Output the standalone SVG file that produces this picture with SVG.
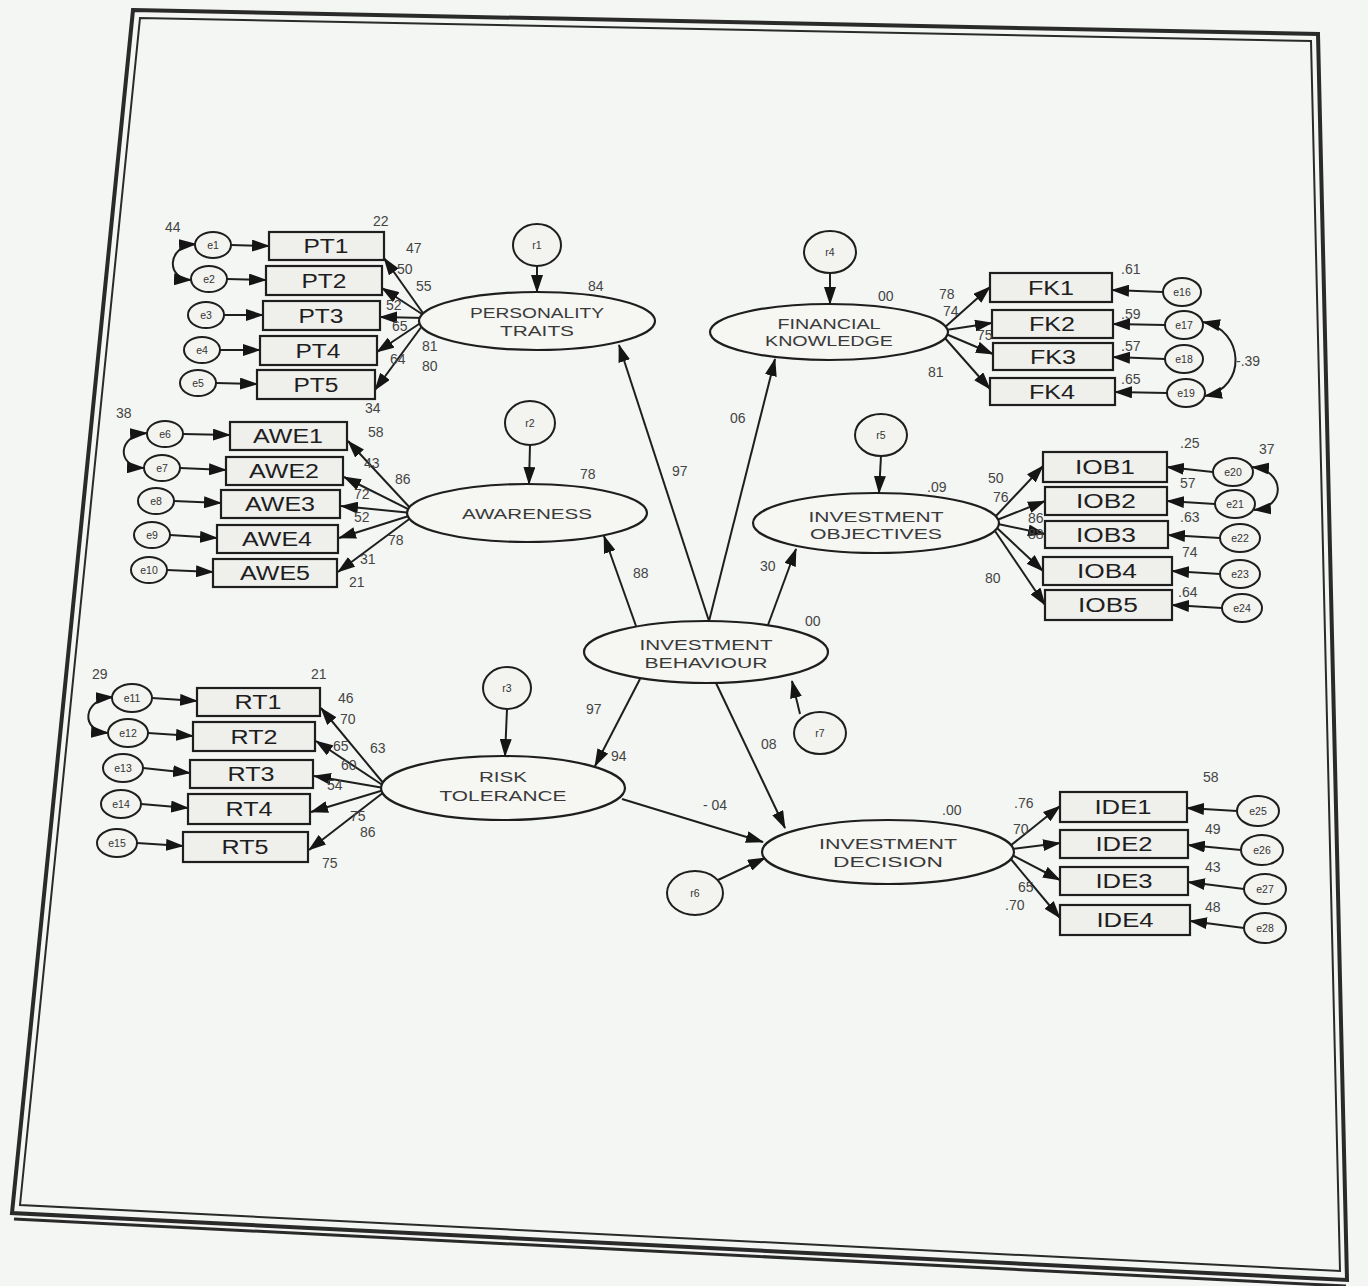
<svg xmlns="http://www.w3.org/2000/svg" width="1368" height="1286" viewBox="0 0 1368 1286">
<style>
.box{fill:#efefec;stroke:#1e1e1e;stroke-width:2.2}
.lat{fill:#f6f6f3;stroke:#1e1e1e;stroke-width:2.2}
.err{fill:#f3f3f0;stroke:#1e1e1e;stroke-width:2}
.bt{font-family:"Liberation Sans",Arial,sans-serif;font-size:20px;fill:#1e1e1e;text-anchor:middle}
.lt{font-family:"Liberation Sans",Arial,sans-serif;font-size:14px;fill:#3a3a3a;text-anchor:middle}
.et{font-family:"Liberation Sans",Arial,sans-serif;font-size:10.5px;fill:#333;text-anchor:middle}
.n{font-family:"Liberation Sans",Arial,sans-serif;font-size:14px;fill:#444}
.c line,.c path{stroke:#1e1e1e;stroke-width:2;fill:none}
.a{marker-end:url(#ah)}
.cv{marker-start:url(#ahs);marker-end:url(#ah)}
</style>
<defs>
<marker id="ah" markerUnits="userSpaceOnUse" markerWidth="18" markerHeight="12" refX="17" refY="6" orient="auto"><path d="M0,0 L18,6 L0,12 z" fill="#151515"/></marker>
<marker id="ahs" markerUnits="userSpaceOnUse" markerWidth="18" markerHeight="12" refX="1" refY="6" orient="auto"><path d="M18,0 L0,6 L18,12 z" fill="#151515"/></marker>
</defs>
<rect x="0" y="0" width="1368" height="1286" fill="#f4f6f3"/>
<g id="frame" fill="none">
<polygon points="133,10 1318,34 1347,1280 12,1213" stroke="#2a2a2a" stroke-width="4"/>
<polygon points="140,18 1311,41 1340,1271 20,1205" stroke="#2a2a2a" stroke-width="2"/>
<line x1="14" y1="1219" x2="1346" y2="1286" stroke="#2a2a2a" stroke-width="3"/>
</g>

<g class="c" id="connectors">
<line class="a" x1="425" y1="316" x2="384" y2="258"/>
<line class="a" x1="425" y1="316" x2="382" y2="288"/>
<line class="a" x1="425" y1="318" x2="380" y2="317"/>
<line class="a" x1="425" y1="320" x2="377" y2="352"/>
<line class="a" x1="425" y1="322" x2="375" y2="390"/>
<line class="a" x1="231" y1="245" x2="269" y2="246"/>
<line class="a" x1="227" y1="279" x2="266" y2="280"/>
<line class="a" x1="224" y1="315" x2="263" y2="315"/>
<line class="a" x1="220" y1="350" x2="260" y2="350"/>
<line class="a" x1="216" y1="383" x2="257" y2="384"/>
<path class="cv" d="M196,244 C166,246 166,279 191,280"/>
<line class="a" x1="412" y1="510" x2="348" y2="441"/>
<line class="a" x1="412" y1="511" x2="344" y2="477"/>
<line class="a" x1="412" y1="513" x2="341" y2="506"/>
<line class="a" x1="412" y1="515" x2="339" y2="538"/>
<line class="a" x1="412" y1="517" x2="338" y2="572"/>
<line class="a" x1="183" y1="434" x2="230" y2="435"/>
<line class="a" x1="180" y1="468" x2="226" y2="470"/>
<line class="a" x1="174" y1="501" x2="221" y2="503"/>
<line class="a" x1="170" y1="535" x2="217" y2="538"/>
<line class="a" x1="167" y1="570" x2="213" y2="572"/>
<path class="cv" d="M147,433 C117,435 116,467 144,468"/>
<line class="a" x1="384" y1="784" x2="321" y2="708"/>
<line class="a" x1="384" y1="786" x2="316" y2="741"/>
<line class="a" x1="384" y1="788" x2="314" y2="776"/>
<line class="a" x1="384" y1="790" x2="311" y2="812"/>
<line class="a" x1="384" y1="792" x2="309" y2="850"/>
<line class="a" x1="152" y1="698" x2="197" y2="701"/>
<line class="a" x1="148" y1="733" x2="193" y2="736"/>
<line class="a" x1="143" y1="768" x2="190" y2="773"/>
<line class="a" x1="141" y1="804" x2="188" y2="808"/>
<line class="a" x1="137" y1="843" x2="183" y2="846"/>
<path class="cv" d="M113,697 C82,699 80,731 108,733"/>
<line class="a" x1="944" y1="328" x2="990" y2="287"/>
<line class="a" x1="946" y1="330" x2="992" y2="323"/>
<line class="a" x1="946" y1="334" x2="993" y2="354"/>
<line class="a" x1="944" y1="337" x2="990" y2="389"/>
<line class="a" x1="1163" y1="292" x2="1112" y2="290"/>
<line class="a" x1="1165" y1="325" x2="1113" y2="324"/>
<line class="a" x1="1165" y1="359" x2="1113" y2="357"/>
<line class="a" x1="1167" y1="393" x2="1115" y2="392"/>
<path class="cv" d="M1203,322 C1245,330 1247,388 1205,396"/>
<line class="a" x1="995" y1="517" x2="1043" y2="466"/>
<line class="a" x1="997" y1="520" x2="1045" y2="501"/>
<line class="a" x1="998" y1="524" x2="1045" y2="534"/>
<line class="a" x1="997" y1="528" x2="1043" y2="571"/>
<line class="a" x1="995" y1="531" x2="1045" y2="605"/>
<line class="a" x1="1213" y1="472" x2="1167" y2="467"/>
<line class="a" x1="1215" y1="504" x2="1167" y2="501"/>
<line class="a" x1="1220" y1="538" x2="1168" y2="535"/>
<line class="a" x1="1220" y1="574" x2="1172" y2="571"/>
<line class="a" x1="1222" y1="608" x2="1172" y2="605"/>
<path class="cv" d="M1252,467 C1285,470 1287,507 1254,510"/>
<line class="a" x1="1010" y1="846" x2="1060" y2="806"/>
<line class="a" x1="1012" y1="849" x2="1060" y2="843"/>
<line class="a" x1="1012" y1="855" x2="1060" y2="880"/>
<line class="a" x1="1010" y1="858" x2="1060" y2="918"/>
<line class="a" x1="1237" y1="811" x2="1187" y2="808"/>
<line class="a" x1="1241" y1="850" x2="1188" y2="845"/>
<line class="a" x1="1244" y1="889" x2="1188" y2="882"/>
<line class="a" x1="1244" y1="928" x2="1190" y2="921"/>
<line class="a" x1="537" y1="266" x2="537" y2="292"/>
<line class="a" x1="530" y1="445" x2="529" y2="484"/>
<line class="a" x1="507" y1="709" x2="505" y2="756"/>
<line class="a" x1="830" y1="273" x2="830" y2="304"/>
<line class="a" x1="881" y1="456" x2="879" y2="493"/>
<line class="a" x1="718" y1="880" x2="765" y2="858"/>
<line class="a" x1="800" y1="714" x2="792" y2="681"/>
<line class="a" x1="709" y1="621" x2="619" y2="345"/>
<line class="a" x1="709" y1="621" x2="775" y2="359"/>
<line class="a" x1="636" y1="626" x2="604" y2="536"/>
<line class="a" x1="768" y1="625" x2="796" y2="549"/>
<line class="a" x1="640" y1="679" x2="595" y2="766"/>
<line class="a" x1="716" y1="683" x2="785" y2="828"/>
<line class="a" x1="622" y1="799" x2="763" y2="842"/>
</g>

<g id="PERSONALITY_TRAITS"><ellipse class="lat" cx="537" cy="321" rx="118" ry="29"/><text class="lt" x="537" y="318" textLength="134" lengthAdjust="spacingAndGlyphs">PERSONALITY</text><text class="lt" x="537" y="336" textLength="74" lengthAdjust="spacingAndGlyphs">TRAITS</text></g>
<g id="AWARENESS"><ellipse class="lat" cx="527" cy="513" rx="120" ry="29"/><text class="lt" x="527" y="519" textLength="130" lengthAdjust="spacingAndGlyphs">AWARENESS</text></g>
<g id="RISK_TOLERANCE"><ellipse class="lat" cx="503" cy="788" rx="122" ry="32"/><text class="lt" x="503" y="782" textLength="48" lengthAdjust="spacingAndGlyphs">RISK</text><text class="lt" x="503" y="801" textLength="127" lengthAdjust="spacingAndGlyphs">TOLERANCE</text></g>
<g id="FINANCIAL_KNOWLEDGE"><ellipse class="lat" cx="829" cy="332" rx="119" ry="28"/><text class="lt" x="829" y="329" textLength="103" lengthAdjust="spacingAndGlyphs">FINANCIAL</text><text class="lt" x="829" y="346" textLength="128" lengthAdjust="spacingAndGlyphs">KNOWLEDGE</text></g>
<g id="INVESTMENT_OBJECTIVES"><ellipse class="lat" cx="876" cy="523" rx="123" ry="30"/><text class="lt" x="876" y="522" textLength="135" lengthAdjust="spacingAndGlyphs">INVESTMENT</text><text class="lt" x="876" y="539" textLength="132" lengthAdjust="spacingAndGlyphs">OBJECTIVES</text></g>
<g id="INVESTMENT_BEHAVIOUR"><ellipse class="lat" cx="706" cy="652" rx="122" ry="31"/><text class="lt" x="706" y="650" textLength="133" lengthAdjust="spacingAndGlyphs">INVESTMENT</text><text class="lt" x="706" y="668" textLength="123" lengthAdjust="spacingAndGlyphs">BEHAVIOUR</text></g>
<g id="INVESTMENT_DECISION"><ellipse class="lat" cx="888" cy="852" rx="126" ry="32"/><text class="lt" x="888" y="849" textLength="138" lengthAdjust="spacingAndGlyphs">INVESTMENT</text><text class="lt" x="888" y="867" textLength="110" lengthAdjust="spacingAndGlyphs">DECISION</text></g>

<g id="r1"><ellipse class="err" cx="537" cy="245" rx="24" ry="21"/><text class="et" x="537" y="249">r1</text></g>
<g id="r2"><ellipse class="err" cx="530" cy="423" rx="25" ry="22"/><text class="et" x="530" y="427">r2</text></g>
<g id="r3"><ellipse class="err" cx="507" cy="688" rx="24" ry="21"/><text class="et" x="507" y="692">r3</text></g>
<g id="r4"><ellipse class="err" cx="830" cy="252" rx="26" ry="21"/><text class="et" x="830" y="256">r4</text></g>
<g id="r5"><ellipse class="err" cx="881" cy="435" rx="26" ry="21"/><text class="et" x="881" y="439">r5</text></g>
<g id="r6"><ellipse class="err" cx="695" cy="893" rx="28" ry="22"/><text class="et" x="695" y="897">r6</text></g>
<g id="r7"><ellipse class="err" cx="820" cy="733" rx="26" ry="21"/><text class="et" x="820" y="737">r7</text></g>

<g id="PT1"><rect class="box" x="269" y="232" width="115" height="28"/><text class="bt" x="326" y="253" textLength="45" lengthAdjust="spacingAndGlyphs">PT1</text></g>
<g id="PT2"><rect class="box" x="266" y="266" width="116" height="29"/><text class="bt" x="324" y="288" textLength="45" lengthAdjust="spacingAndGlyphs">PT2</text></g>
<g id="PT3"><rect class="box" x="263" y="301" width="117" height="29"/><text class="bt" x="321" y="323" textLength="45" lengthAdjust="spacingAndGlyphs">PT3</text></g>
<g id="PT4"><rect class="box" x="260" y="336" width="117" height="29"/><text class="bt" x="318" y="358" textLength="45" lengthAdjust="spacingAndGlyphs">PT4</text></g>
<g id="PT5"><rect class="box" x="257" y="370" width="118" height="29"/><text class="bt" x="316" y="392" textLength="45" lengthAdjust="spacingAndGlyphs">PT5</text></g>
<g id="e1"><ellipse class="err" cx="213" cy="245" rx="18" ry="13"/><text class="et" x="213" y="249">e1</text></g>
<g id="e2"><ellipse class="err" cx="209" cy="279" rx="18" ry="13"/><text class="et" x="209" y="283">e2</text></g>
<g id="e3"><ellipse class="err" cx="206" cy="315" rx="18" ry="13"/><text class="et" x="206" y="319">e3</text></g>
<g id="e4"><ellipse class="err" cx="202" cy="350" rx="18" ry="13"/><text class="et" x="202" y="354">e4</text></g>
<g id="e5"><ellipse class="err" cx="198" cy="383" rx="18" ry="13"/><text class="et" x="198" y="387">e5</text></g>

<g id="AWE1"><rect class="box" x="230" y="422" width="117" height="28"/><text class="bt" x="288" y="443" textLength="70" lengthAdjust="spacingAndGlyphs">AWE1</text></g>
<g id="AWE2"><rect class="box" x="226" y="457" width="117" height="28"/><text class="bt" x="284" y="478" textLength="70" lengthAdjust="spacingAndGlyphs">AWE2</text></g>
<g id="AWE3"><rect class="box" x="221" y="490" width="119" height="28"/><text class="bt" x="280" y="511" textLength="70" lengthAdjust="spacingAndGlyphs">AWE3</text></g>
<g id="AWE4"><rect class="box" x="217" y="525" width="121" height="28"/><text class="bt" x="277" y="546" textLength="70" lengthAdjust="spacingAndGlyphs">AWE4</text></g>
<g id="AWE5"><rect class="box" x="213" y="559" width="124" height="28"/><text class="bt" x="275" y="580" textLength="70" lengthAdjust="spacingAndGlyphs">AWE5</text></g>
<g id="e6"><ellipse class="err" cx="165" cy="434" rx="18" ry="13"/><text class="et" x="165" y="438">e6</text></g>
<g id="e7"><ellipse class="err" cx="162" cy="468" rx="18" ry="13"/><text class="et" x="162" y="472">e7</text></g>
<g id="e8"><ellipse class="err" cx="156" cy="501" rx="18" ry="13"/><text class="et" x="156" y="505">e8</text></g>
<g id="e9"><ellipse class="err" cx="152" cy="535" rx="18" ry="13"/><text class="et" x="152" y="539">e9</text></g>
<g id="e10"><ellipse class="err" cx="149" cy="570" rx="18" ry="13"/><text class="et" x="149" y="574">e10</text></g>

<g id="RT1"><rect class="box" x="197" y="688" width="123" height="28"/><text class="bt" x="258" y="709" textLength="47" lengthAdjust="spacingAndGlyphs">RT1</text></g>
<g id="RT2"><rect class="box" x="193" y="722" width="122" height="29"/><text class="bt" x="254" y="744" textLength="47" lengthAdjust="spacingAndGlyphs">RT2</text></g>
<g id="RT3"><rect class="box" x="190" y="760" width="123" height="28"/><text class="bt" x="251" y="781" textLength="47" lengthAdjust="spacingAndGlyphs">RT3</text></g>
<g id="RT4"><rect class="box" x="188" y="794" width="122" height="30"/><text class="bt" x="249" y="816" textLength="47" lengthAdjust="spacingAndGlyphs">RT4</text></g>
<g id="RT5"><rect class="box" x="183" y="832" width="125" height="30"/><text class="bt" x="245" y="854" textLength="47" lengthAdjust="spacingAndGlyphs">RT5</text></g>
<g id="e11"><ellipse class="err" cx="132" cy="698" rx="20" ry="14"/><text class="et" x="132" y="702">e11</text></g>
<g id="e12"><ellipse class="err" cx="128" cy="733" rx="20" ry="14"/><text class="et" x="128" y="737">e12</text></g>
<g id="e13"><ellipse class="err" cx="123" cy="768" rx="20" ry="14"/><text class="et" x="123" y="772">e13</text></g>
<g id="e14"><ellipse class="err" cx="121" cy="804" rx="20" ry="14"/><text class="et" x="121" y="808">e14</text></g>
<g id="e15"><ellipse class="err" cx="117" cy="843" rx="20" ry="14"/><text class="et" x="117" y="847">e15</text></g>

<g id="FK1"><rect class="box" x="990" y="273" width="122" height="29"/><text class="bt" x="1051" y="295" textLength="46" lengthAdjust="spacingAndGlyphs">FK1</text></g>
<g id="FK2"><rect class="box" x="992" y="310" width="121" height="28"/><text class="bt" x="1052" y="331" textLength="46" lengthAdjust="spacingAndGlyphs">FK2</text></g>
<g id="FK3"><rect class="box" x="993" y="343" width="120" height="27"/><text class="bt" x="1053" y="364" textLength="46" lengthAdjust="spacingAndGlyphs">FK3</text></g>
<g id="FK4"><rect class="box" x="990" y="378" width="125" height="27"/><text class="bt" x="1052" y="399" textLength="46" lengthAdjust="spacingAndGlyphs">FK4</text></g>
<g id="e16"><ellipse class="err" cx="1182" cy="292" rx="19" ry="14"/><text class="et" x="1182" y="296">e16</text></g>
<g id="e17"><ellipse class="err" cx="1184" cy="325" rx="19" ry="14"/><text class="et" x="1184" y="329">e17</text></g>
<g id="e18"><ellipse class="err" cx="1184" cy="359" rx="19" ry="14"/><text class="et" x="1184" y="363">e18</text></g>
<g id="e19"><ellipse class="err" cx="1186" cy="393" rx="19" ry="14"/><text class="et" x="1186" y="397">e19</text></g>

<g id="IOB1"><rect class="box" x="1043" y="452" width="124" height="30"/><text class="bt" x="1105" y="474" textLength="60" lengthAdjust="spacingAndGlyphs">IOB1</text></g>
<g id="IOB2"><rect class="box" x="1045" y="487" width="122" height="28"/><text class="bt" x="1106" y="508" textLength="60" lengthAdjust="spacingAndGlyphs">IOB2</text></g>
<g id="IOB3"><rect class="box" x="1045" y="521" width="123" height="27"/><text class="bt" x="1106" y="542" textLength="60" lengthAdjust="spacingAndGlyphs">IOB3</text></g>
<g id="IOB4"><rect class="box" x="1043" y="557" width="129" height="28"/><text class="bt" x="1107" y="578" textLength="60" lengthAdjust="spacingAndGlyphs">IOB4</text></g>
<g id="IOB5"><rect class="box" x="1045" y="590" width="127" height="30"/><text class="bt" x="1108" y="612" textLength="60" lengthAdjust="spacingAndGlyphs">IOB5</text></g>
<g id="e20"><ellipse class="err" cx="1233" cy="472" rx="20" ry="14"/><text class="et" x="1233" y="476">e20</text></g>
<g id="e21"><ellipse class="err" cx="1235" cy="504" rx="20" ry="14"/><text class="et" x="1235" y="508">e21</text></g>
<g id="e22"><ellipse class="err" cx="1240" cy="538" rx="20" ry="14"/><text class="et" x="1240" y="542">e22</text></g>
<g id="e23"><ellipse class="err" cx="1240" cy="574" rx="20" ry="14"/><text class="et" x="1240" y="578">e23</text></g>
<g id="e24"><ellipse class="err" cx="1242" cy="608" rx="20" ry="14"/><text class="et" x="1242" y="612">e24</text></g>

<g id="IDE1"><rect class="box" x="1060" y="792" width="127" height="30"/><text class="bt" x="1123" y="814" textLength="57" lengthAdjust="spacingAndGlyphs">IDE1</text></g>
<g id="IDE2"><rect class="box" x="1060" y="830" width="128" height="28"/><text class="bt" x="1124" y="851" textLength="57" lengthAdjust="spacingAndGlyphs">IDE2</text></g>
<g id="IDE3"><rect class="box" x="1060" y="867" width="128" height="28"/><text class="bt" x="1124" y="888" textLength="57" lengthAdjust="spacingAndGlyphs">IDE3</text></g>
<g id="IDE4"><rect class="box" x="1060" y="905" width="130" height="30"/><text class="bt" x="1125" y="927" textLength="57" lengthAdjust="spacingAndGlyphs">IDE4</text></g>
<g id="e25"><ellipse class="err" cx="1258" cy="811" rx="21" ry="15"/><text class="et" x="1258" y="815">e25</text></g>
<g id="e26"><ellipse class="err" cx="1262" cy="850" rx="21" ry="15"/><text class="et" x="1262" y="854">e26</text></g>
<g id="e27"><ellipse class="err" cx="1265" cy="889" rx="21" ry="15"/><text class="et" x="1265" y="893">e27</text></g>
<g id="e28"><ellipse class="err" cx="1265" cy="928" rx="21" ry="15"/><text class="et" x="1265" y="932">e28</text></g>

<g id="estimates" class="n">
<text x="165" y="232">44</text><text x="373" y="226">22</text><text x="406" y="253">47</text><text x="397" y="274">50</text><text x="416" y="291">55</text>
<text x="386" y="310">52</text><text x="392" y="331">65</text><text x="422" y="351">81</text><text x="422" y="371">80</text><text x="390" y="364">64</text>
<text x="365" y="413">34</text><text x="588" y="291">84</text>
<text x="116" y="418">38</text><text x="368" y="437">58</text><text x="364" y="468">43</text><text x="395" y="484">86</text><text x="354" y="499">72</text>
<text x="354" y="522">52</text><text x="388" y="545">78</text><text x="360" y="564">31</text><text x="349" y="587">21</text>
<text x="580" y="479">78</text><text x="672" y="476">97</text><text x="730" y="423">06</text><text x="633" y="578">88</text><text x="760" y="571">30</text>
<text x="805" y="626">00</text><text x="586" y="714">97</text><text x="611" y="761">94</text><text x="761" y="749">08</text><text x="703" y="810">- 04</text>
<text x="92" y="679">29</text><text x="311" y="679">21</text><text x="338" y="703">46</text><text x="340" y="724">70</text><text x="370" y="753">63</text>
<text x="333" y="751">65</text><text x="341" y="770">60</text><text x="327" y="790">54</text><text x="350" y="821">75</text><text x="360" y="837">86</text>
<text x="322" y="868">75</text>
<text x="878" y="301">00</text><text x="939" y="299">78</text><text x="943" y="316">74</text><text x="977" y="340">75</text><text x="928" y="377">81</text>
<text x="1121" y="274">.61</text><text x="1121" y="319">.59</text><text x="1121" y="351">.57</text><text x="1121" y="384">.65</text><text x="1236" y="366">-.39</text>
<text x="927" y="492">.09</text><text x="988" y="483">50</text><text x="993" y="502">76</text><text x="1028" y="523">86</text><text x="1028" y="539">88</text>
<text x="985" y="583">80</text><text x="1180" y="448">.25</text><text x="1259" y="454">37</text><text x="1180" y="488">57</text><text x="1180" y="522">.63</text>
<text x="1182" y="557">74</text><text x="1178" y="597">.64</text>
<text x="942" y="815">.00</text><text x="1014" y="808">.76</text><text x="1013" y="834">70</text><text x="1018" y="892">65</text><text x="1005" y="910">.70</text>
<text x="1203" y="782">58</text><text x="1205" y="834">49</text><text x="1205" y="872">43</text><text x="1205" y="912">48</text>
</g>
</svg>
